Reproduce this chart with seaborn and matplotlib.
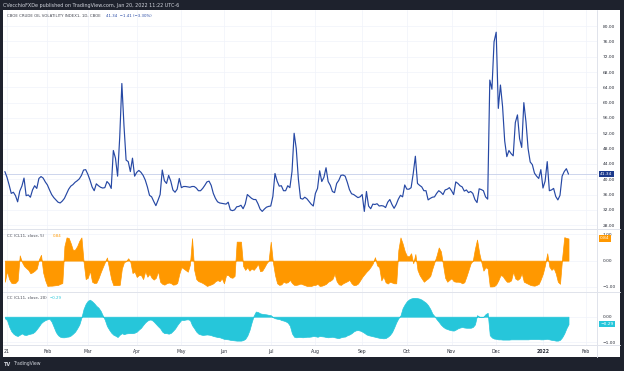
import numpy as np
import pandas as pd
import seaborn as sns
import matplotlib
matplotlib.use("Agg")
import matplotlib.pyplot as plt
from matplotlib.lines import Line2D
from matplotlib.patches import Rectangle
from matplotlib.ticker import FuncFormatter

# NYSE/CBOE closures in the window
HOLIDAYS = ["2021-01-01", "2021-01-18", "2021-02-15", "2021-04-02", "2021-05-31",
            "2021-07-05", "2021-09-06", "2021-11-25", "2021-12-24", "2022-01-17"]
START, END = "2020-12-31", "2022-01-20"

# OVX daily close, one value per trading day (Dec 31 2020 .. Jan 20 2022)
ovx_close = [
    42.0,
    # Jan
    40.5, 38.5, 36.3, 36.6, 35.7, 34.1, 36.9, 38.2, 40.3, 35.7, 35.9, 35.3, 37.2, 38.3, 37.6, 40.2, 40.7, 40.3, 39.3,
    # Feb
    38.5, 37.2, 36.0, 35.2, 34.6, 34.0, 33.8, 34.3, 35.0, 36.2, 37.4, 38.2, 38.6, 39.2, 39.6, 40.1, 41.0, 42.4, 42.5,
    # Mar
    41.3, 39.8, 38.0, 37.0, 38.8, 38.3, 37.9, 37.7, 37.8, 39.4, 38.8, 37.6, 47.5, 45.5, 40.8, 51.0, 65.0, 54.0, 45.0,
    44.6, 42.0, 45.5, 40.8,
    # Apr
    41.8, 42.3, 41.8, 41.0, 39.8, 38.0, 35.8, 35.4, 34.2, 33.1, 34.5, 36.0, 42.4, 39.6, 38.9, 41.0, 39.5, 37.2, 36.6,
    37.4, 40.2,
    # May
    37.8, 38.1, 38.1, 38.0, 37.9, 38.1, 38.1, 37.7, 37.0, 37.0, 37.6, 38.4, 39.3, 39.5, 38.4, 36.3, 35.0, 34.1, 33.8,
    33.7,
    # Jun
    33.6, 33.5, 34.0, 32.0, 31.8, 32.0, 32.8, 32.9, 33.2, 32.3, 33.5, 36.0, 35.5, 35.0, 34.7, 34.7, 33.6, 32.2, 31.6,
    32.2, 32.7, 32.9,
    # Jul
    33.0, 35.5, 41.5, 39.5, 38.2, 38.3, 37.0, 37.0, 38.3, 37.8, 42.0, 52.0, 48.0, 40.0, 35.0, 34.8, 35.3, 34.9, 34.2,
    33.5, 33.0,
    # Aug
    36.3, 37.6, 42.2, 39.4, 40.5, 43.0, 39.4, 38.4, 36.8, 36.5, 38.9, 39.7, 41.0, 41.1, 40.8, 39.2, 37.3, 36.2, 36.0,
    35.6, 35.2, 35.4,
    # Sep
    36.0, 31.6, 36.8, 33.0, 32.3, 33.5, 33.4, 33.6, 33.0, 33.1, 33.0, 32.6, 34.0, 34.7, 33.4, 32.4, 33.4, 34.8, 35.8,
    35.4, 38.5,
    # Oct
    37.4, 37.4, 37.8, 41.5, 46.0, 38.9, 38.4, 38.0, 37.0, 37.0, 34.6, 35.0, 35.3, 35.4, 36.3, 37.0, 36.6, 36.0, 37.2,
    37.4, 37.8,
    # Nov
    37.0, 36.0, 39.3, 38.9, 38.3, 38.0, 36.9, 37.2, 36.5, 36.8, 36.3, 34.7, 33.9, 37.5, 37.3, 37.0, 35.4, 34.8, 65.9,
    63.5, 75.9,
    # Dec
    78.4, 58.5, 64.6, 59.0, 50.0, 45.9, 47.5, 46.7, 46.1, 54.8, 56.8, 50.6, 48.3, 60.0, 55.0, 48.0, 44.5, 43.8, 41.6,
    40.8, 40.2, 42.5,
    # Jan 2022
    37.7, 39.5, 44.6, 37.0, 37.2, 37.6, 35.5, 34.6, 35.8, 40.8, 42.0, 42.75, 41.34,
]

# CC(CL1!, close, 5)
cc_5 = [
    -0.80,
    -0.40, -0.70, -0.84, -0.86, -0.84, -0.75, 0.20, -0.05, -0.20, -0.28, -0.35, -0.48, -0.44, -0.38, -0.30, 0.05,
    0.22, -0.45, -0.75,
    -0.96, -0.95, -0.95, -0.94, -0.93, -0.92, -0.88, -0.85, 0.55, 0.88, 0.86, 0.65, 0.40, 0.42, 0.55, 0.75, 0.88,
    -0.04, -0.70,
    -0.65, -0.38, -0.80, -0.85, -0.84, -0.67, -0.45, -0.25, -0.06, 0.12, -0.30, -0.70, -0.93, -0.93, -0.93, -0.92,
    -0.30, -0.06, -0.02, 0.09, -0.05, -0.47, -0.42,
    -0.62, -0.55, -0.55, -0.70, -0.40, -0.61, -0.50, -0.65, -0.72, -0.65, -0.40, -0.80, -0.88, -0.91, -0.86, -0.83,
    -0.85, -0.91, -0.90, -0.85, -0.50,
    -0.25, -0.30, -0.36, -0.42, -0.15, 0.85, -0.35, -0.70, -0.78, -0.81, -0.85, -0.90, -0.96, -0.93, -0.90, -0.86,
    -0.78, -0.74, -0.78, -0.67,
    -0.86, -0.55, -0.55, -0.63, -0.65, -0.58, 0.72, 0.72, 0.72, -0.20, -0.35, -0.25, -0.38, -0.30, -0.35, -0.25,
    -0.12, -0.40, -0.38, -0.25, -0.10, 0.00,
    0.72, -0.05, -0.54, -0.86, -0.92, -0.90, -0.80, -0.84, -0.82, -0.73, -0.85, -0.92, -0.92, -0.90, -0.87, -0.90,
    -0.93, -0.96, -0.96, -0.96, -0.93,
    -0.92, -0.88, -0.96, -0.95, -0.92, -0.88, -0.80, -0.76, -0.70, -0.50, -0.78, -0.90, -0.92, -0.86, -0.82, -0.78,
    -0.73, -0.86, -0.93, -0.92, -0.87, -0.75,
    -0.62, -0.52, -0.42, -0.34, -0.23, -0.10, 0.13, -0.18, -0.25, -0.75, -0.60, -0.82, -0.87, -0.80, -0.83, -0.86,
    -0.86, 0.40, 0.88, 0.65, 0.36,
    0.18, 0.16, 0.28, -0.10, 0.25, -0.35, -0.55, -0.68, -0.80, -0.73, -0.67, -0.58, -0.30, -0.05, 0.20, 0.50, 0.35,
    -0.15, -0.65, -0.80, -0.73,
    -0.67, -0.78, -0.80, -0.80, -0.81, -0.86, -0.82, -0.60, -0.35, -0.10, 0.00, 0.45, 0.80, 0.30, -0.05, -0.38,
    -0.25, -0.30, -0.98, -0.98, -0.97,
    -0.90, -0.75, -0.55, -0.58, -0.70, -0.80, -0.80, -0.75, -0.42, -0.68, -0.73, -0.67, -0.48, -0.80, -0.84, -0.88,
    -0.92, -0.94, -0.95, -0.92, -0.88, -0.70,
    -0.48, -0.15, 0.28, -0.23, -0.35, -0.28, -0.48, -0.80, -0.88, 0.10, 0.89, 0.86, 0.84,
]

# CC(CL1!, close, 20)
cc_20 = [
    -0.06,
    -0.13, -0.38, -0.56, -0.66, -0.72, -0.75, -0.70, -0.65, -0.70, -0.71, -0.68, -0.66, -0.64, -0.58, -0.48, -0.37,
    -0.25, -0.18, -0.13,
    -0.10, -0.08, -0.20, -0.40, -0.60, -0.72, -0.78, -0.80, -0.80, -0.78, -0.77, -0.73, -0.66, -0.58, -0.45, -0.30,
    -0.03, 0.30, 0.50,
    0.62, 0.66, 0.60, 0.52, 0.42, 0.35, 0.23, 0.05, -0.12, -0.36, -0.50, -0.62, -0.70, -0.74, -0.79, -0.70, -0.64,
    -0.68, -0.65, -0.64, -0.64, -0.64, -0.62,
    -0.58, -0.50, -0.43, -0.32, -0.22, -0.15, -0.11, -0.12, -0.19, -0.28, -0.37, -0.45, -0.58, -0.64, -0.64, -0.66,
    -0.63, -0.55, -0.46, -0.33, -0.22,
    -0.12, -0.13, -0.11, -0.10, -0.13, -0.33, -0.45, -0.58, -0.66, -0.69, -0.71, -0.70, -0.69, -0.70, -0.72, -0.75,
    -0.77, -0.79, -0.80, -0.83,
    -0.86, -0.87, -0.88, -0.90, -0.91, -0.92, -0.93, -0.93, -0.93, -0.91, -0.86, -0.73, -0.52, -0.22, 0.04, 0.20,
    0.18, 0.13, 0.11, 0.10, 0.09, 0.07,
    0.06, -0.02, -0.06, -0.08, -0.09, -0.13, -0.15, -0.18, -0.23, -0.35, -0.65, -0.78, -0.80, -0.79, -0.79, -0.80,
    -0.79, -0.78, -0.78, -0.77, -0.75,
    -0.76, -0.78, -0.75, -0.76, -0.77, -0.79, -0.80, -0.79, -0.78, -0.80, -0.82, -0.83, -0.80, -0.78, -0.77, -0.72,
    -0.69, -0.64, -0.57, -0.53, -0.52, -0.54,
    -0.58, -0.63, -0.69, -0.72, -0.74, -0.76, -0.78, -0.80, -0.82, -0.83, -0.84, -0.83, -0.78, -0.71, -0.60, -0.42,
    -0.22, -0.06, 0.05, 0.33, 0.48,
    0.60, 0.67, 0.71, 0.73, 0.73, 0.72, 0.70, 0.66, 0.60, 0.54, 0.44, 0.30, 0.12, 0.02, -0.10, -0.20, -0.31, -0.39,
    -0.45, -0.48, -0.51,
    -0.53, -0.54, -0.50, -0.45, -0.42, -0.40, -0.42, -0.43, -0.43, -0.43, -0.40, -0.30, 0.06, 0.00, -0.02, 0.00,
    0.10, 0.15, -0.72, -0.81, -0.85,
    -0.86, -0.88, -0.88, -0.89, -0.89, -0.89, -0.89, -0.88, -0.88, -0.88, -0.88, -0.88, -0.88, -0.88, -0.88, -0.88,
    -0.87, -0.87, -0.87, -0.87, -0.87, -0.88,
    -0.88, -0.87, -0.86, -0.88, -0.90, -0.91, -0.93, -0.93, -0.90, -0.80, -0.65, -0.45, -0.29,
]

month_labels = ["21", "Feb", "Mar", "Apr", "May", "Jun", "Jul", "Aug", "Sep", "Oct", "Nov", "Dec", "2022", "Feb"]
ovx_ticks = [28, 32, 36, 40, 44, 48, 52, 56, 60, 64, 68, 72, 76, 80]
cc5_ticks = [-1, 0, 1]
cc20_ticks = [-1, 0]

FRAME = "#1e222d"
TEXT = "#2a2e39"
GRID = "#f0f3fa"
SEP = "#e0e3eb"
BLUE = "#2648a4"
ORANGE = "#ff9800"
CYAN = "#26c6da"

W, H = 624, 371


def rect(x0, y0, x1, y1):
    # pixel box (top-left origin) -> figure fraction [l, b, w, h]
    return [x0 / W, 1 - y1 / H, (x1 - x0) / W, (y1 - y0) / H]


def ptext(x, y, s, **kw):
    kw.setdefault("va", "center")
    return fig.text(x / W, 1 - y / H, s, **kw)


def fmt(v, _):
    return f"{v:.2f}".replace("-", "\u2212")


def value_tag(ax, y, s, fc):
    ax.annotate(s, xy=(1, y), xycoords=("axes fraction", "data"), xytext=(2.2, 0),
                textcoords="offset points", ha="left", va="center", fontsize=3.2, color="white",
                bbox=dict(boxstyle="square,pad=0.3", fc=fc, ec="none"), annotation_clip=False, zorder=10)


sns.set_theme(style="white")
plt.rcParams["font.family"] = ["DejaVu Sans"]

days = pd.bdate_range(START, END, freq="C", holidays=HOLIDAYS)
df = pd.DataFrame({"pos": np.arange(len(days)), "ovx": ovx_close, "cc5": cc_5, "cc20": cc_20}, index=days)
cal = pd.bdate_range(START, "2022-02-01", freq="C", holidays=HOLIDAYS)
month_pos = [i for i in range(1, len(cal)) if cal[i].month != cal[i - 1].month]

fig = plt.figure(figsize=(W / 100, H / 100), dpi=100, facecolor=FRAME)
fig.add_artist(Rectangle((3 / W, 1 - 357 / H), 617 / W, 347 / H, transform=fig.transFigure,
                         fc="white", ec="none", zorder=0))

ax_main = fig.add_axes(rect(3, 10, 597, 229))
ax_cc5 = fig.add_axes(rect(3, 229, 597, 292))
ax_cc20 = fig.add_axes(rect(3, 292, 597, 345))

sns.lineplot(data=df, x="pos", y="ovx", ax=ax_main, color=BLUE, lw=0.85)
ax_main.axhline(ovx_close[-1], color="#c5cfea", lw=0.6, zorder=1)
ax_main.set_ylim(27.0, 84.2)
ax_main.set_yticks(ovx_ticks)
value_tag(ax_main, ovx_close[-1], f"{ovx_close[-1]:.2f}", "#1c3a8c")

ax_cc5.fill_between(df["pos"], 0, df["cc5"], color=ORANGE, lw=0.5, edgecolor=ORANGE)
ax_cc5.set_ylim(-1.19, 1.2)
ax_cc5.set_yticks(cc5_ticks)
value_tag(ax_cc5, cc_5[-1], fmt(cc_5[-1], None), ORANGE)

ax_cc20.fill_between(df["pos"], 0, df["cc20"], color=CYAN, lw=0.5, edgecolor=CYAN)
ax_cc20.set_ylim(-1.10, 0.96)
ax_cc20.set_yticks(cc20_ticks)
value_tag(ax_cc20, cc_20[-1], fmt(cc_20[-1], None), CYAN)

for ax in (ax_main, ax_cc5, ax_cc20):
    ax.set_facecolor("none")
    ax.set_xlim(-0.88, 278.4)
    ax.set_xticks(month_pos)
    ax.set_xlabel("")
    ax.set_ylabel("")
    ax.grid(True, color=GRID, lw=0.5)
    for s in ax.spines.values():
        s.set_visible(False)
    ax.yaxis.tick_right()
    ax.yaxis.set_major_formatter(FuncFormatter(fmt))
    ax.tick_params(axis="y", length=0, pad=4.3, labelsize=3.2, labelcolor=TEXT)
    ax.tick_params(axis="x", length=0, labelbottom=False)

ax_cc20.tick_params(axis="x", labelbottom=True, pad=2.6, labelsize=3.3, labelcolor=TEXT)
ax_cc20.set_xticklabels(month_labels)
for lab in ax_cc20.get_xticklabels():
    if lab.get_text() == "2022":
        lab.set_fontweight("bold")

# panel separators
for y in (229, 292, 345):
    fig.add_artist(Line2D([3 / W, 620 / W], [1 - y / H] * 2, transform=fig.transFigure, color=SEP, lw=0.7))
fig.add_artist(Line2D([597 / W] * 2, [1 - 10 / H, 1 - 357 / H], transform=fig.transFigure, color=SEP, lw=0.7))

# header / legends / footer
ptext(3, 5, "CVecchioFXDe published on TradingView.com, Jan 20, 2022 11:22 UTC-6", fontsize=3.5, color="#d1d4dc")
ptext(7, 16, "CBOE CRUDE OIL VOLATILITY INDEX1, 1D, CBOE", fontsize=2.8, color="#434651")
ptext(106, 16, "41.34  \u22121.41 (\u22123.30%)", fontsize=2.8, color=BLUE)
ptext(7, 236, "CC (CL11, close, 5)", fontsize=2.8, color="#434651")
ptext(53, 236, "0.84", fontsize=2.8, color=ORANGE)
ptext(7, 298, "CC (CL11, close, 20)", fontsize=2.8, color="#434651")
ptext(50, 298, "\u22120.29", fontsize=2.8, color=CYAN)
ptext(4, 364, "TV", fontsize=3.6, color="#d1d4dc", fontweight="bold")
ptext(13, 364, "TradingView", fontsize=3.3, color="#d1d4dc")

fig.savefig("out.png", dpi=100, facecolor=FRAME)
